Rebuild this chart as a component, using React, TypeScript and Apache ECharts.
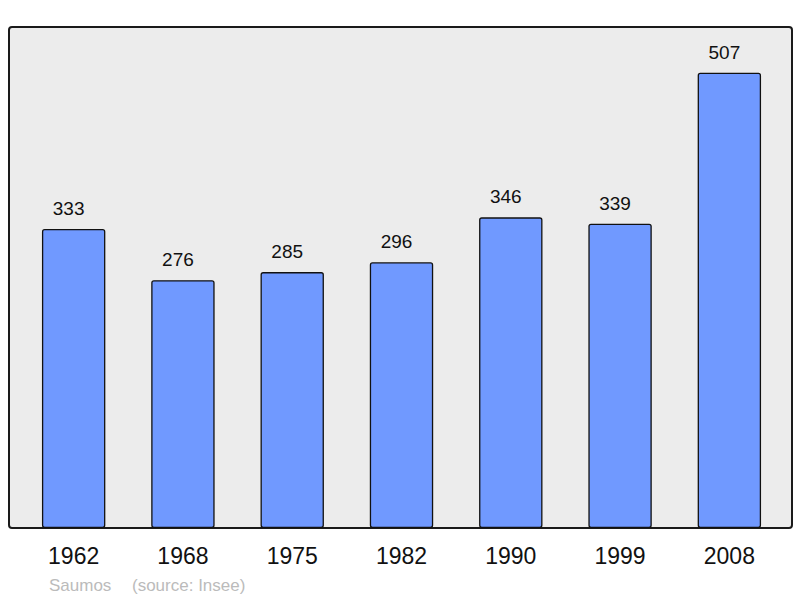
import React, { useEffect, useRef } from 'react';
import * as echarts from 'echarts';

const years = ['1962', '1968', '1975', '1982', '1990', '1999', '2008'];
const population = [333, 276, 285, 296, 346, 339, 507];
const town = 'Saumos';
const source = '(source: Insee)';

const App: React.FC = () => {
  const chartRef = useRef<HTMLDivElement>(null);

  useEffect(() => {
    document.body.style.margin = '0';
    if (!chartRef.current) return;
    const chart = echarts.init(chartRef.current, undefined, { renderer: 'svg' });

    chart.setOption({
      animation: false,
      textStyle: { fontFamily: 'Liberation Sans, Arial, sans-serif' },
      grid: { left: 19, right: 16, top: 27, bottom: 70 },
      xAxis: {
        type: 'category',
        data: years,
        axisLine: { show: false },
        axisTick: { show: false },
        axisLabel: { fontSize: 23, color: '#111', margin: 16, offset: 0 },
      },
      yAxis: {
        type: 'value',
        min: 0,
        max: 558,
        show: false,
        splitLine: { show: false },
      },
      graphic: [
        {
          type: 'rect',
          z: -10,
          shape: { x: 9, y: 27, width: 783, height: 501, r: 3 },
          style: { fill: '#ececec', stroke: '#1a1a1a', lineWidth: 2 },
        },
        {
          type: 'text',
          x: 49,
          y: 585,
          style: { text: town, fill: '#bbbbbb', fontSize: 17, verticalAlign: 'middle', fontFamily: 'Liberation Sans, Arial, sans-serif' },
        },
        {
          type: 'text',
          x: 132,
          y: 585,
          style: { text: source, fill: '#bbbbbb', fontSize: 17, verticalAlign: 'middle', fontFamily: 'Liberation Sans, Arial, sans-serif' },
        },
      ],
      series: [
        {
          type: 'bar',
          data: population,
          barWidth: '58%',
          itemStyle: {
            color: '#7099ff',
            borderColor: '#111',
            borderWidth: 1.3,
            borderRadius: 2,
          },
          label: {
            show: true,
            position: 'top',
            distance: 11,
            offset: [-5, 0],
            fontSize: 19,
            color: '#111',
          },
        },
      ],
    });

    return () => {
      chart.dispose();
    };
  }, []);

  return <div ref={chartRef} style={{ width: 800, height: 598 }} />;
};

export default App;
